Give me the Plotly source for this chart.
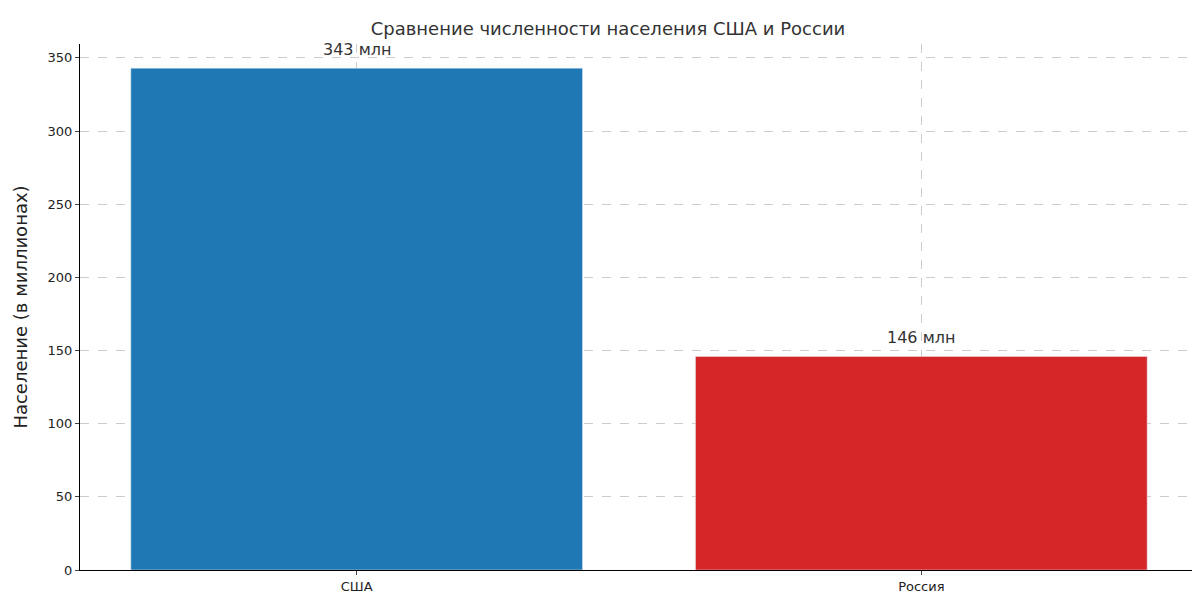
import plotly.graph_objects as go

countries = ["США", "Россия"]
population = [343, 146]
labels = ["343 млн", "146 млн"]
colors = ["#1f77b4", "#d62728"]

fig = go.Figure(go.Bar(x=[0, 1], y=population, marker_color=colors, width=0.8))
for i, (v, t) in enumerate(zip(population, labels)):
    fig.add_annotation(x=i, y=v + 5, text=t, showarrow=False, yanchor="bottom",
                       font=dict(size=16, color="#333"))
fig.update_layout(
    width=1200, height=596, plot_bgcolor="white", paper_bgcolor="white",
    font=dict(family="DejaVu Sans", size=13, color="#222"),
    margin=dict(l=72, r=10, t=36, b=32), showlegend=False,
    title=dict(text="Сравнение численности населения США и России", x=0.5, xanchor="center",
               y=0.965, yanchor="middle", font=dict(size=18, color="#333")),
)
fig.update_xaxes(range=[-0.49, 1.49], tickvals=[0, 1], ticktext=countries, showline=True,
                 linecolor="black", ticks="outside", ticklen=4, showgrid=True,
                 gridcolor="#cccccc", griddash="dash", gridwidth=0.8, zeroline=False)
fig.update_yaxes(range=[0, 359.5], dtick=50, showline=True, linecolor="black", ticks="outside",
                 ticklen=4, showgrid=True, gridcolor="#cccccc", griddash="dash", gridwidth=0.8,
                 zeroline=False, title=dict(text="Население (в миллионах)", font=dict(size=18)))
fig.write_html("out.html")
